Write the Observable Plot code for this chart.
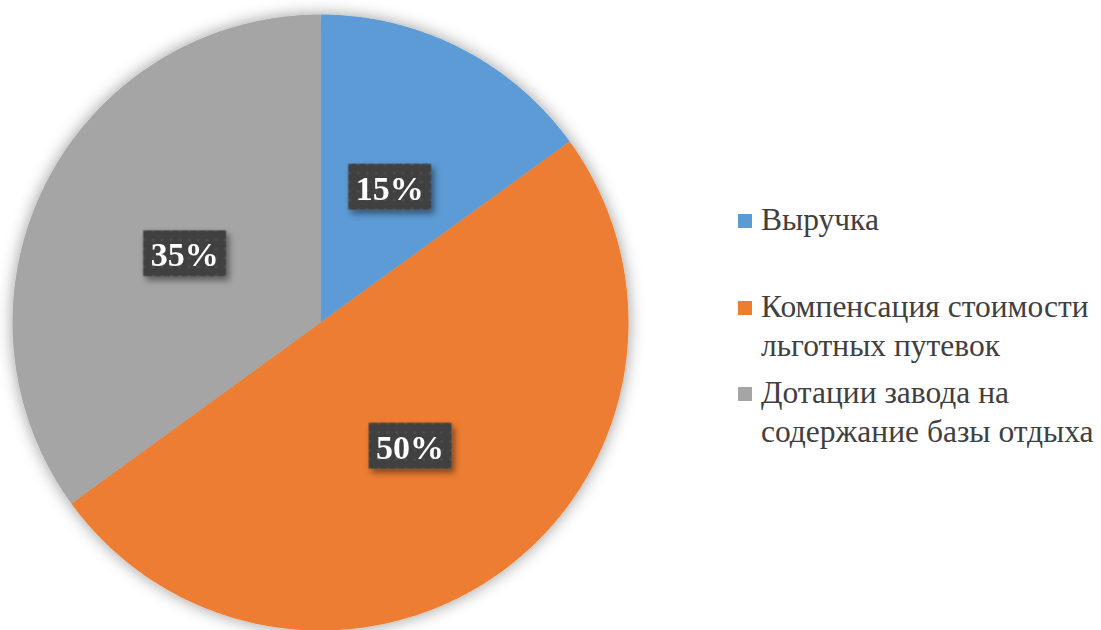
<!DOCTYPE html>
<html>
<head>
<meta charset="utf-8">
<script src="https://cdn.jsdelivr.net/npm/d3@7"></script>
<script src="https://cdn.jsdelivr.net/npm/@observablehq/plot@0.6"></script>
<style>
  html, body { margin: 0; padding: 0; background: #ffffff; }
  #wrap { position: relative; width: 1101px; height: 630px; overflow: hidden; }
  #chart svg { display: block; }
  .legend { position: absolute; left: 738px; top: 0; font-family: "Liberation Serif", "Times New Roman", serif; font-size: 31.5px; color: #404040; line-height: 38.5px; }
  .legend .item { position: absolute; left: 0; white-space: nowrap; }
  .legend .sw { position: absolute; left: 0; width: 14px; height: 14px; }
  .legend .tx { position: absolute; left: 23px; top: 0; }
</style>
</head>
<body>
<svg width="0" height="0" style="position:absolute">
  <defs>
    <pattern id="dots" width="9" height="9" patternUnits="userSpaceOnUse">
      <rect width="9" height="9" fill="#3f3f3f"></rect>
      <circle cx="4.5" cy="4.5" r="1.6" fill="#505050"></circle>
    </pattern>
    <filter id="pieShadow" x="-20%" y="-20%" width="140%" height="140%">
      <feDropShadow dx="0" dy="0" stdDeviation="8" flood-color="#000" flood-opacity="0.4"></feDropShadow>
    </filter>
    <filter id="boxShadow" x="-30%" y="-30%" width="160%" height="160%">
      <feDropShadow dx="3" dy="4" stdDeviation="3" flood-color="#000" flood-opacity="0.45"></feDropShadow>
    </filter>
  </defs>
</svg>
<div id="wrap">
  <div id="chart"></div>
  <div class="legend" id="legend"></div>
</div>
<script>
// ---- data ----
const categories = ["Выручка", "Компенсация стоимости льготных путевок", "Дотации завода на содержание базы отдыха"];
const legendLines = [["Выручка"], ["Компенсация стоимости", "льготных путевок"], ["Дотации завода на", "содержание базы отдыха"]];
const values = [15, 50, 35];
const colors = ["#5B9BD5", "#ED7D31", "#A5A5A5"];

// ---- derived geometry (unit circle, angles clockwise from top) ----
const arcs = d3.pie().sort(null).value(d => d.value)(categories.map((c, i) => ({name: c, value: values[i]})));
const slicePoints = [];
arcs.forEach(a => {
  const n = Math.max(2, Math.ceil((a.endAngle - a.startAngle) / (Math.PI / 360)));
  slicePoints.push({name: a.data.name, x: 0, y: 0});
  for (let k = 0; k <= n; k++) {
    const t = a.startAngle + (a.endAngle - a.startAngle) * k / n;
    slicePoints.push({name: a.data.name, x: Math.sin(t), y: Math.cos(t)});
  }
});
const labelRadius = 0.495;
const labels = arcs.map(a => {
  const m = (a.startAngle + a.endAngle) / 2;
  return {name: a.data.name, text: a.data.value + "%", x: labelRadius * Math.sin(m), y: labelRadius * Math.cos(m)};
});

const boxSymbol = { draw(ctx) { ctx.rect(-41.5, -23, 83, 46); } };

const plot = Plot.plot({
  width: 1101,
  height: 630,
  marginLeft: 12,
  marginRight: 473,
  marginTop: 14,
  marginBottom: 0,
  x: {domain: [-1, 1], axis: null},
  y: {domain: [-1, 1], axis: null},
  color: {domain: categories, range: colors},
  style: {background: "transparent", overflow: "visible"},
  marks: [
    Plot.line(slicePoints, {x: "x", y: "y", z: "name", fill: "name", stroke: "none", curve: "linear"}),
    Plot.dot(labels, {x: "x", y: "y", symbol: boxSymbol, r: 10, fill: "url(#dots)", stroke: "none"}),
    Plot.text(labels, {x: "x", y: "y", text: "text", fill: "white", fontSize: 34, fontWeight: "bold", fontFamily: "Liberation Serif, Times New Roman, serif", dy: 2})
  ]
});
document.getElementById("chart").appendChild(plot);

// shadows
const svg = d3.select(plot);
svg.selectAll("g[aria-label='line']").attr("filter", "url(#pieShadow)");
svg.selectAll("g[aria-label='dot']").attr("filter", "url(#boxShadow)");

// ---- legend ----
const legendTops = [201, 288, 374];
const legend = d3.select("#legend");
legendLines.forEach((lines, i) => {
  const item = legend.append("div").attr("class", "item").style("top", legendTops[i] + "px");
  item.append("div").attr("class", "sw").style("background", colors[i]).style("top", "13px");
  const tx = item.append("div").attr("class", "tx");
  lines.forEach(l => tx.append("div").text(l));
});
</script>
</body>
</html>
